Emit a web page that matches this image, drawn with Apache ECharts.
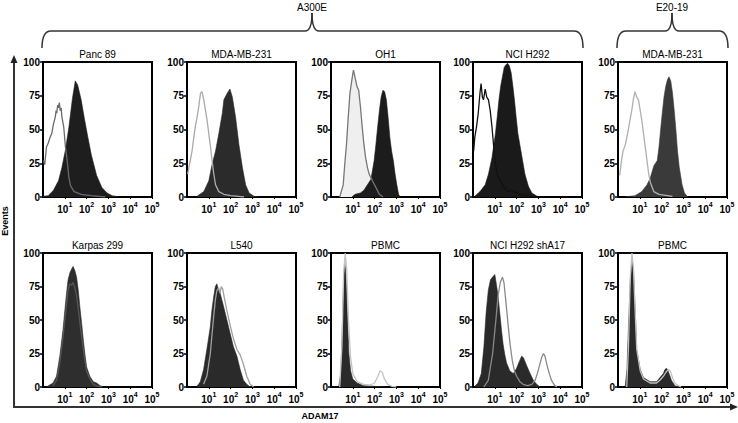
<!DOCTYPE html>
<html><head><meta charset="utf-8">
<script src="https://cdn.jsdelivr.net/npm/echarts@6/dist/echarts.min.js"></script>
<style>html,body{margin:0;padding:0;background:#fff}#c{width:738px;height:423px}</style>
</head><body><div id="c"></div>
<script>
// ---- tick labels ----
const xTickBase = '10';
const xTickExponents = ['', '1', '2', '3', '4', '5'];
const yTickValues = [0, 25, 50, 75, 100];
const panelTitles = ['Panc 89', 'MDA-MB-231', 'OH1', 'NCI H292', 'MDA-MB-231',
                     'Karpas 299', 'L540', 'PBMC', 'NCI H292 shA17', 'PBMC'];
const groupLabels = ['A300E', 'E20-19'];
const axisTitleY = 'Events';
const axisTitleX = 'ADAM17';

// ---- histogram data: [log10(ADAM17), % of max events] ----
const panc89Filled = [[0,0.5],[0.24,1],[0.48,5],[0.71,12],[0.87,22],[1.03,35],[1.19,52],[1.35,73],[1.48,86],[1.59,83],[1.75,72],[1.9,58],[2.06,44],[2.22,31],[2.46,16],[2.7,7],[2.94,3],[3.17,1],[3.5,0]];
const panc89Open = [[0.02,27],[0.08,24],[0.16,37],[0.24,40],[0.32,44],[0.4,47],[0.48,54],[0.56,59],[0.6,64],[0.63,62],[0.67,68],[0.71,66],[0.75,70],[0.79,64],[0.83,66],[0.87,59],[0.95,52],[1.03,37],[1.11,27],[1.19,14],[1.27,8],[1.43,4],[1.75,2],[2.22,1],[2.86,0]];
const mdaFilled = [[0.46,0.5],[0.77,4],[1.0,12],[1.15,24],[1.31,34],[1.46,47],[1.62,62],[1.69,72],[1.85,77],[1.97,80],[2.08,74],[2.23,59],[2.38,39],[2.54,22],[2.69,9],[2.85,3],[3.08,0.5],[3.3,0]];
const mdaOpen = [[0.03,17],[0.15,27],[0.23,34],[0.31,44],[0.38,52],[0.46,59],[0.54,67],[0.62,77],[0.69,78],[0.77,72],[0.85,64],[0.92,57],[1.0,47],[1.08,37],[1.15,27],[1.23,17],[1.31,9],[1.46,4],[1.69,2],[2.0,1],[2.62,0]];
const oh1Filled = [[0.95,0],[1.11,2],[1.35,3],[1.51,5],[1.67,9],[1.83,13],[1.98,27],[2.06,39],[2.14,52],[2.22,64],[2.3,74],[2.38,79],[2.46,78],[2.54,72],[2.62,59],[2.7,44],[2.78,34],[2.86,27],[2.94,17],[3.02,9],[3.1,2],[3.17,0]];
const oh1Open = [[0.4,0],[0.56,9],[0.63,24],[0.71,39],[0.79,59],[0.87,77],[0.95,86],[1.03,94],[1.11,88],[1.19,82],[1.27,79],[1.35,67],[1.43,52],[1.51,39],[1.59,29],[1.67,22],[1.75,17],[1.9,12],[2.06,7],[2.22,2],[2.38,0]];
const nciFilled = [[0.08,0.5],[0.32,4],[0.56,9],[0.71,17],[0.87,29],[1.03,47],[1.11,59],[1.19,72],[1.27,82],[1.35,89],[1.43,96],[1.51,98],[1.59,99],[1.67,97],[1.75,92],[1.83,82],[1.9,72],[1.98,59],[2.06,47],[2.22,32],[2.38,17],[2.54,8],[2.7,3],[2.94,0.5],[3.1,0]];
const nciOpen = [[0.03,34],[0.08,44],[0.16,52],[0.24,62],[0.32,77],[0.37,84],[0.43,74],[0.48,72],[0.56,80],[0.63,74],[0.71,72],[0.79,64],[0.87,52],[0.95,37],[1.03,24],[1.11,17],[1.27,11],[1.43,7],[1.59,4],[1.75,5],[1.9,4],[2.14,2],[2.54,1],[3.0,0]];
const e20MdaFilled = [[0.31,0],[0.78,1],[1.09,4],[1.33,9],[1.48,14],[1.64,23],[1.8,27],[1.88,37],[1.95,49],[2.03,62],[2.11,74],[2.19,82],[2.27,87],[2.34,89],[2.42,86],[2.5,77],[2.58,64],[2.66,49],[2.73,34],[2.81,22],[2.94,9],[3.05,3],[3.2,0]];
const e20MdaOpen = [[0.08,16],[0.16,27],[0.23,34],[0.34,39],[0.44,47],[0.55,57],[0.63,64],[0.7,72],[0.78,78],[0.86,74],[0.94,72],[1.02,64],[1.09,57],[1.17,47],[1.25,37],[1.33,27],[1.41,17],[1.48,11],[1.64,4],[1.88,2],[2.5,0.5]];
const karpasFilled = [[0.15,0],[0.46,3],[0.62,8],[0.77,23],[0.92,43],[1.0,57],[1.08,70],[1.15,80],[1.23,85],[1.31,88],[1.38,90],[1.46,87],[1.54,82],[1.62,72],[1.69,60],[1.77,48],[1.85,35],[1.92,25],[2.0,15],[2.15,8],[2.31,4],[2.46,3],[2.62,1],[2.77,0]];
const karpasOpen = [[0.46,1],[0.62,5],[0.77,18],[0.92,38],[1.0,50],[1.08,62],[1.15,72],[1.23,77],[1.31,76],[1.38,78],[1.46,74],[1.54,68],[1.62,58],[1.69,48],[1.77,38],[1.85,28],[1.92,20],[2.0,12],[2.15,6],[2.31,2],[2.5,0.5],[2.7,0]];
const l540Filled = [[0.46,0.5],[0.61,4],[0.76,13],[0.91,28],[1.07,45],[1.14,57],[1.22,67],[1.3,75],[1.37,77],[1.45,72],[1.52,70],[1.6,65],[1.68,60],[1.83,50],[1.98,40],[2.13,30],[2.29,23],[2.44,13],[2.59,5],[2.74,2],[2.9,0]];
const l540Open = [[0.76,2],[0.91,8],[1.07,25],[1.14,38],[1.22,52],[1.3,65],[1.37,72],[1.45,74],[1.52,70],[1.57,75],[1.64,73],[1.72,66],[1.83,57],[1.98,46],[2.13,36],[2.29,28],[2.44,24],[2.59,17],[2.74,8],[2.9,2],[3.05,0]];
const pbmcFilled = [[0.35,0],[0.45,10],[0.52,45],[0.58,80],[0.63,93],[0.68,85],[0.75,55],[0.82,25],[0.9,12],[1.0,6],[1.2,3],[1.5,1],[2.0,0.5],[2.5,0]];
const pbmcOpen = [[0.4,0],[0.5,30],[0.58,85],[0.65,100],[0.72,88],[0.8,50],[0.9,22],[1.0,10],[1.2,4],[1.5,2],[1.8,1.5],[2.0,3],[2.15,8],[2.25,12],[2.35,11],[2.45,6],[2.6,2],[2.8,0.5],[3.0,0]];
const sha17Filled = [[0.08,0.5],[0.23,3],[0.38,10],[0.5,30],[0.6,55],[0.7,72],[0.8,80],[0.9,82],[1.0,84],[1.08,76],[1.15,68],[1.23,55],[1.31,42],[1.38,32],[1.46,24],[1.54,18],[1.69,12],[1.85,10],[2.0,14],[2.15,20],[2.23,23],[2.31,22],[2.46,16],[2.62,10],[2.77,5],[2.92,2],[3.08,0]];
const sha17Open = [[0.5,0],[0.7,5],[0.9,25],[1.05,50],[1.15,68],[1.25,78],[1.35,82],[1.42,78],[1.5,65],[1.6,48],[1.7,32],[1.8,20],[1.9,12],[2.0,8],[2.15,4],[2.3,2],[2.5,1],[2.7,2],[2.85,5],[2.95,10],[3.05,16],[3.15,22],[3.23,25],[3.3,23],[3.4,16],[3.5,10],[3.6,5],[3.75,1],[3.85,0]];
const pbmc2Filled = [[0.33,0.5],[0.41,13],[0.48,45],[0.56,77],[0.64,94],[0.71,87],[0.79,57],[0.86,28],[1.02,13],[1.17,7],[1.47,4],[1.77,4],[1.92,7],[2.08,10],[2.15,13],[2.23,14],[2.3,12],[2.45,5],[2.61,1],[2.76,0]];
const pbmc2Open = [[0.4,0],[0.48,30],[0.56,80],[0.64,100],[0.71,88],[0.79,55],[0.86,28],[1.02,12],[1.17,6],[1.47,3],[1.77,3],[1.92,5],[2.08,8],[2.2,11],[2.3,13],[2.4,12],[2.5,7],[2.6,3],[2.75,1],[2.9,0]];

// ---- layout & styles ----
const colLeft = [43, 187, 331, 473, 618];
const colWidth = 109;
const rowTop = [62, 253];
const rowHeight = [135, 134];

const panels = [
  {filled: panc89Filled, open: panc89Open, fill: '#1e1e1e', line: '#6a6a6a'},
  {filled: mdaFilled, open: mdaOpen, fill: '#2b2b2b', line: '#aaaaaa'},
  {filled: oh1Filled, open: oh1Open, fill: '#1c1c1c', line: '#777777', openFill: '#efefef'},
  {filled: nciFilled, open: nciOpen, fill: '#1a1a1a', line: '#111111'},
  {filled: e20MdaFilled, open: e20MdaOpen, fill: '#3a3a3a', line: '#b0b0b0'},
  {filled: karpasFilled, open: karpasOpen, fill: '#2e2e2e', line: '#555555'},
  {filled: l540Filled, open: l540Open, fill: '#2a2a2a', line: '#a0a0a0'},
  {filled: pbmcFilled, open: pbmcOpen, fill: '#2a2a2a', line: '#c4c4c4'},
  {filled: sha17Filled, open: sha17Open, fill: '#2a2a2a', line: '#8a8a8a'},
  {filled: pbmc2Filled, open: pbmc2Open, fill: '#2a2a2a', line: '#c0c0c0'}
];

const FONT = 'Arial, "Liberation Sans", "DejaVu Sans", sans-serif';
const grids = [], xAxes = [], yAxes = [], series = [], graphics = [];

panels.forEach((p, i) => {
  const r = Math.floor(i / 5), c = i % 5;
  const left = colLeft[c], top = rowTop[r], h = rowHeight[r];
  grids.push({left: left, top: top, width: colWidth, height: h, show: true,
    borderColor: '#000', borderWidth: 2, backgroundColor: '#fff'});
  xAxes.push({type: 'value', gridIndex: i, min: 0, max: 5, interval: 1,
    axisLine: {show: false}, splitLine: {show: false},
    axisTick: {show: true, length: 2, lineStyle: {color: '#000', width: 1}},
    axisLabel: {
      formatter: v => { const e = xTickExponents[Math.round(v)]; return e ? '{b|' + xTickBase + '}{s|' + e + '}' : ''; },
      margin: 4, showMinLabel: false,
      rich: {
        b: {fontSize: 10, fontWeight: 'bold', color: '#000', fontFamily: FONT, lineHeight: 13, verticalAlign: 'bottom'},
        s: {fontSize: 7, fontWeight: 'bold', color: '#000', fontFamily: FONT, lineHeight: 13, verticalAlign: 'top'}
      }}});
  yAxes.push({type: 'value', gridIndex: i, min: 0, max: 100, interval: 25,
    axisLine: {show: false}, splitLine: {show: false},
    axisTick: {show: true, length: 3, lineStyle: {color: '#000', width: 1.5}},
    axisLabel: {formatter: v => yTickValues.includes(v) ? String(v) : '', fontSize: 10, fontWeight: 'bold',
      color: '#000', margin: 3, fontFamily: FONT}});
  if (p.openFill) {
    series.push({type: 'line', xAxisIndex: i, yAxisIndex: i, data: p.open, showSymbol: false,
      silent: true, z: 1, lineStyle: {width: 0}, areaStyle: {color: p.openFill, opacity: 1}});
  }
  series.push({type: 'line', xAxisIndex: i, yAxisIndex: i, data: p.filled, showSymbol: false,
    silent: true, z: 2, lineStyle: {width: 0.6, color: p.fill}, areaStyle: {color: p.fill, opacity: 1}});
  series.push({type: 'line', xAxisIndex: i, yAxisIndex: i, data: p.open, showSymbol: false,
    silent: true, z: 3, lineStyle: {width: 1.3, color: p.line}});
  graphics.push({type: 'text', x: left + colWidth / 2, y: top - 8, silent: true,
    style: {text: panelTitles[i], align: 'center', verticalAlign: 'middle', fontSize: 10,
      fontFamily: FONT, fill: '#000'}});
});

// braces (curly brackets) built from curves and lines
function brace(x0, x1, xm, yBar, yTop, yEnd) {
  const st = {stroke: '#333', lineWidth: 1.5, fill: null};
  const parts = [
    {type: 'bezierCurve', shape: {x1: x0, y1: yEnd, cpx1: x0, cpy1: yBar, x2: x0 + 9, y2: yBar}},
    {type: 'line', shape: {x1: x0 + 9, y1: yBar, x2: xm - 7, y2: yBar}},
    {type: 'bezierCurve', shape: {x1: xm - 7, y1: yBar, cpx1: xm, cpy1: yBar, x2: xm, y2: yTop}},
    {type: 'bezierCurve', shape: {x1: xm, y1: yTop, cpx1: xm, cpy1: yBar, x2: xm + 7, y2: yBar}},
    {type: 'line', shape: {x1: xm + 7, y1: yBar, x2: x1 - 9, y2: yBar}},
    {type: 'bezierCurve', shape: {x1: x1 - 9, y1: yBar, cpx1: x1, cpy1: yBar, x2: x1, y2: yEnd}}
  ];
  parts.forEach(pt => { pt.silent = true; pt.style = st; graphics.push(pt); });
}
brace(42, 583, 312, 31, 13, 48);
brace(617, 728, 672, 31, 13, 48);
graphics.push({type: 'text', x: 312, y: 7, silent: true, style: {text: groupLabels[0], align: 'center',
  verticalAlign: 'middle', fontSize: 10, fontFamily: FONT, fill: '#000'}});
graphics.push({type: 'text', x: 672, y: 7, silent: true, style: {text: groupLabels[1], align: 'center',
  verticalAlign: 'middle', fontSize: 10, fontFamily: FONT, fill: '#000'}});

// overall axes with arrows
graphics.push({type: 'polyline', silent: true, shape: {points: [[14, 62], [14, 407], [731, 407]]},
  style: {stroke: '#333', lineWidth: 2, fill: null}});
graphics.push({type: 'polygon', silent: true, shape: {points: [[14, 55], [10.5, 63], [17.5, 63]]},
  style: {fill: '#222'}});
graphics.push({type: 'polygon', silent: true, shape: {points: [[738, 407], [730, 403.5], [730, 410.5]]},
  style: {fill: '#222'}});
graphics.push({type: 'text', x: 5, y: 221, rotation: Math.PI / 2, silent: true,
  style: {text: axisTitleY, align: 'center', verticalAlign: 'middle', fontSize: 9, fontWeight: 'bold',
    fontFamily: FONT, fill: '#000'}});
graphics.push({type: 'text', x: 320, y: 416, silent: true,
  style: {text: axisTitleX, align: 'center', verticalAlign: 'middle', fontSize: 9, fontWeight: 'bold',
    fontFamily: FONT, fill: '#000'}});

const chart = echarts.init(document.getElementById('c'), null, {renderer: 'svg'});
chart.setOption({
  animation: false,
  backgroundColor: '#fff',
  grid: grids, xAxis: xAxes, yAxis: yAxes, series: series,
  graphic: graphics
});
</script></body></html>
